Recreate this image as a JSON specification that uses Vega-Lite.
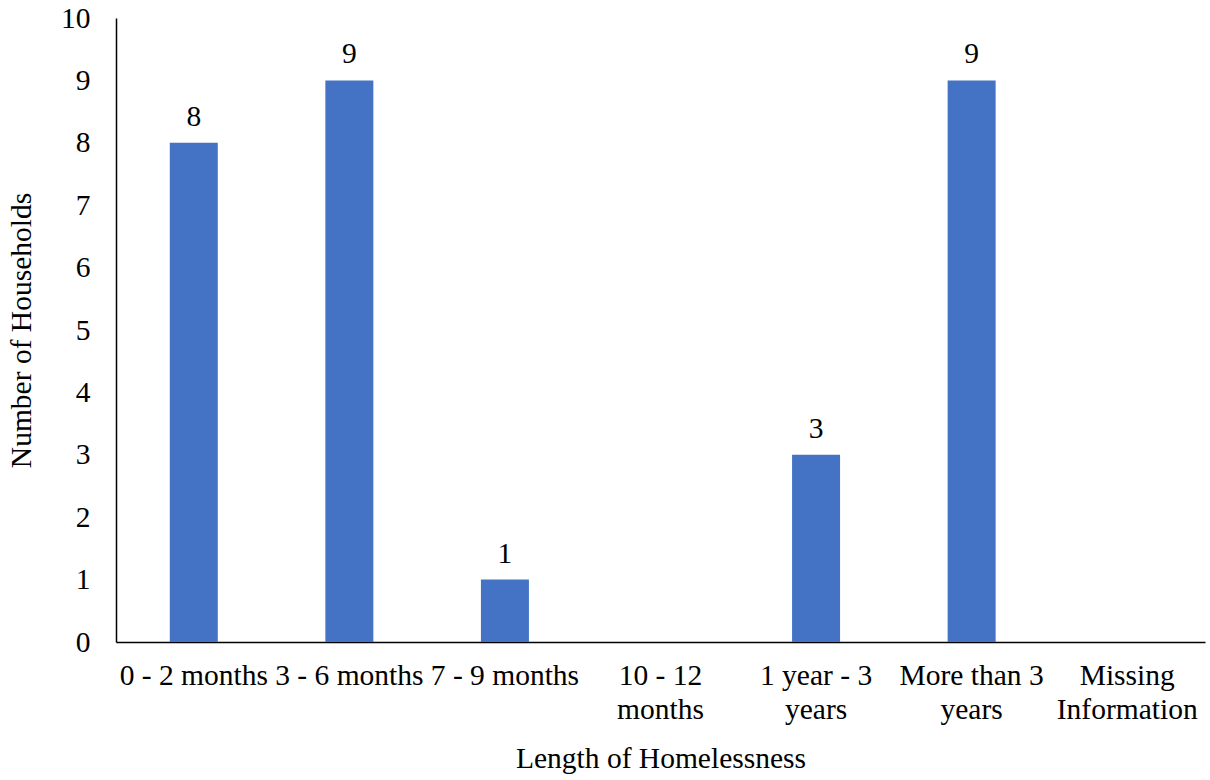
{
  "$schema": "https://vega.github.io/schema/vega-lite/v6.json",
  "width": 1089,
  "height": 624,
  "autosize": {"type": "none"},
  "padding": {"left": 116, "top": 18, "right": 5, "bottom": 138},
  "background": "white",
  "config": {
    "view": {"stroke": null},
    "font": "Liberation Serif"
  },
  "data": {
    "values": [
      {"category": "0 - 2 months", "households": 8},
      {"category": "3 - 6 months", "households": 9},
      {"category": "7 - 9 months", "households": 1},
      {"category": "10 - 12 months", "households": 0},
      {"category": "1 year - 3 years", "households": 3},
      {"category": "More than 3 years", "households": 9},
      {"category": "Missing Information", "households": 0}
    ]
  },
  "encoding": {
    "x": {
      "field": "category",
      "type": "nominal",
      "sort": null,
      "scale": {"paddingInner": 0, "paddingOuter": 0},
      "axis": {
        "title": "Length of Homelessness",
        "labelAngle": 0,
        "labelPadding": 19,
        "labelBaseline": "top",
        "labelLineHeight": 34,
        "labelLimit": 300,
        "labelOverlap": false,
        "labelFont": "Liberation Serif",
        "labelFontSize": 29.5,
        "labelColor": "black",
        "titleFont": "Liberation Serif",
        "titleFontSize": 29.5,
        "titleFontWeight": "normal",
        "titleColor": "black",
        "titlePadding": 21,
        "domainColor": "black",
        "domainWidth": 1.5,
        "ticks": false,
        "grid": false,
        "labelExpr": "datum.value == '10 - 12 months' ? ['10 - 12', 'months'] : datum.value == '1 year - 3 years' ? ['1 year - 3', 'years'] : datum.value == 'More than 3 years' ? ['More than 3', 'years'] : datum.value == 'Missing Information' ? ['Missing', 'Information'] : datum.value"
      }
    },
    "y": {
      "field": "households",
      "type": "quantitative",
      "scale": {"domain": [0, 10], "nice": false},
      "axis": {
        "title": "Number of Households",
        "values": [0, 1, 2, 3, 4, 5, 6, 7, 8, 9, 10],
        "labelOverlap": false,
        "labelFont": "Liberation Serif",
        "labelFontSize": 29.5,
        "labelColor": "black",
        "labelPadding": 26,
        "titleFont": "Liberation Serif",
        "titleFontSize": 29.5,
        "titleFontWeight": "normal",
        "titleColor": "black",
        "titlePadding": 24,
        "domainColor": "black",
        "domainWidth": 1.5,
        "ticks": false,
        "grid": false
      }
    }
  },
  "layer": [
    {"mark": {"type": "bar", "color": "#4472C4", "width": 48}},
    {
      "transform": [{"filter": "datum.households > 0"}],
      "mark": {"type": "text", "baseline": "alphabetic", "dy": -17, "fontSize": 29.5, "font": "Liberation Serif", "color": "black"},
      "encoding": {"text": {"field": "households", "type": "quantitative"}}
    }
  ]
}
